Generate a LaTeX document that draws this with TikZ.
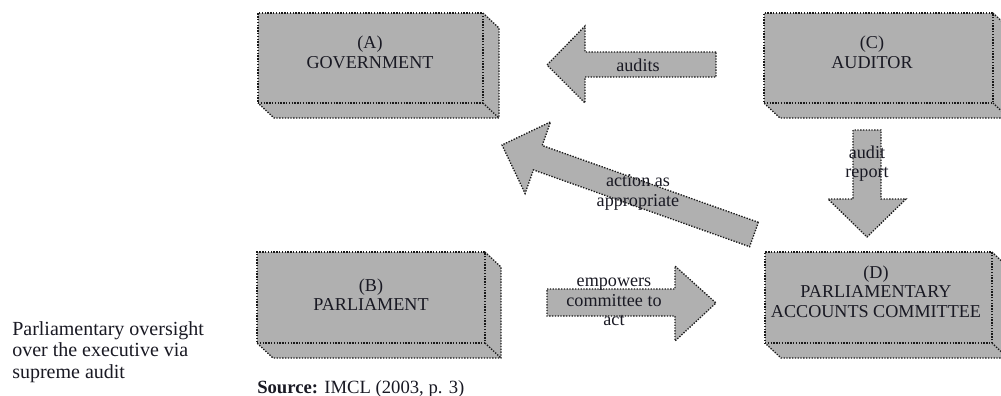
\documentclass[tikz,border=0pt]{standalone}
\usepackage{fontspec}
\setmainfont{Liberation Serif}
\usetikzlibrary{fit}
\definecolor{boxgray}{RGB}{176,176,176}
\definecolor{edgecol}{RGB}{25,25,25}
\definecolor{txtcol}{RGB}{25,25,35}
\tikzset{
  dotline/.style={draw=edgecol, line width=1pt, dash pattern=on 1pt off 1.1pt},
  face/.style={dotline, fill=boxgray, inner sep=0pt, outer sep=0pt},
  blockarrow/.style={dotline, fill=boxgray, line join=miter},
  lbl/.style={text=txtcol, align=center, inner sep=0pt,
    font=\fontsize{13.6pt}{14.6pt}\selectfont},
  caption/.style={text=txtcol, align=left, inner sep=0pt,
    font=\fontsize{15pt}{16.2pt}\selectfont},
}
% #1 name, #2 left, #3 top, #4 right, #5 bottom (pixel units, y down)
\newcommand\cuboidbox[5]{%
  \path[fill=boxgray] (#2,#3) -- (#4,#3) -- (#4+16,#3+15) -- (#4+16,#5+15)
     -- (#2+16,#5+15) -- (#2,#5) -- cycle;
  \draw[dotline] (#4,#3) -- (#4+16,#3+15) -- (#4+16,#5+15)
     -- (#2+16,#5+15) -- (#2,#5);
  \draw[dotline] (#4,#5) -- (#4+16,#5+15);
  \node[face, fit={(#2,#3) (#4,#5)}] (#1) {};
}
\begin{document}
\begin{tikzpicture}[x=0.75pt,y=-0.75pt]
\useasboundingbox (0,0) rectangle (1001,396);
\clip (0,0) rectangle (1001,396);

% boxes
\cuboidbox{A}{258}{13}{483}{103}
\cuboidbox{C}{764}{13}{993}{103}
\cuboidbox{B}{257}{252}{485}{343}
\cuboidbox{D}{765}{252}{992}{343}

\node[lbl] (Atext) at (370,52.5) {(A)\\GOVERNMENT};
\node[lbl] (Ctext) at (872,52.5) {(C)\\AUDITOR};
\node[lbl] (Btext) at (371,294.5) {(B)\\PARLIAMENT};
\node[lbl] (Dtext) at (876,291.5) {(D)\\PARLIAMENTARY\\ACCOUNTS COMMITTEE};

% block arrows
% audits: C -> A
\draw[blockarrow] (716,52) -- (585,52) -- (585,26) -- (547,65) -- (585,103)
  -- (585,77) -- (716,77) -- cycle;
\node[lbl] (audits) at (638,65.5) {audits};

% audit report: C -> D
\draw[blockarrow] (853,130) -- (853,199) -- (828,199) -- (867,237) -- (906,199)
  -- (881,199) -- (881,130) -- cycle;
\node[lbl] (report) at (867,163.5) {audit\\report};

% empowers: B -> D
\draw[blockarrow] (547,289) -- (675,289) -- (675,266) -- (716,303) -- (675,341)
  -- (675,316) -- (547,316) -- cycle;
\node[lbl] (empowers) at (614,302) {empowers\\committee to\\act};

% action as appropriate: D -> A
\draw[blockarrow] (758.4,222.3) -- (542.2,145.5) -- (550.5,121.9) -- (502,145)
  -- (525.1,193.5) -- (533.4,169.9) -- (749.6,246.7) -- cycle;
\node[lbl] (action) at (638,192.5) {action as\\appropriate};

% captions
\node[caption, anchor=west] (cap) at (12,352) {Parliamentary oversight\\over the executive via\\supreme audit};
\node[text=txtcol, inner sep=0pt, anchor=base west,
  font=\fontsize{14pt}{16pt}\selectfont] (src) at (257,393)
  {\textbf{Source:} IMCL (2003, p. 3)};
\end{tikzpicture}
\end{document}
